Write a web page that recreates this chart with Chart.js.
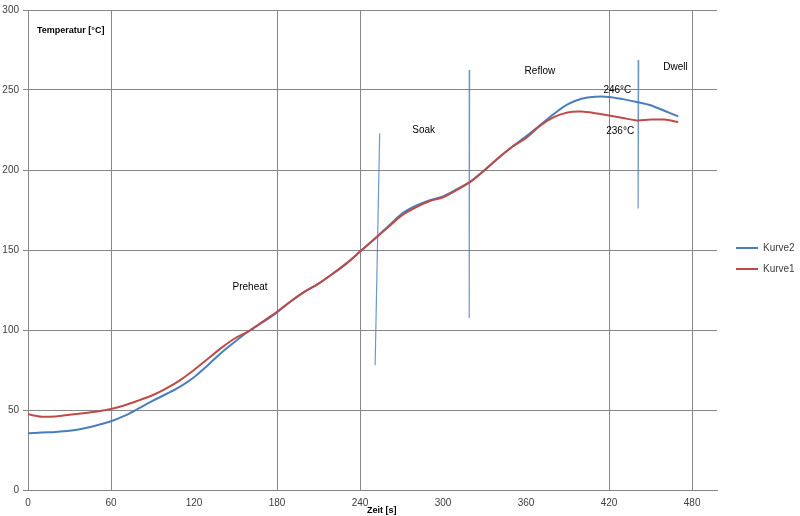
<!DOCTYPE html>
<html lang="de">
<head>
  <meta charset="UTF-8">
  <title>Temperaturprofil</title>
  <script src="https://cdn.jsdelivr.net/npm/chart.js"></script>
  <style>
    html, body { margin: 0; padding: 0; background: #fff; }
    #wrap { width: 800px; height: 516px; }
  </style>
</head>
<body>
  <div id="wrap"><canvas id="profil" width="800" height="516"></canvas></div>
  <script>
    // Zeit [s] und Temperaturen [°C]
    const zeit = [0, 10, 20, 30, 40, 50, 60, 70, 80, 90, 100, 110, 120, 130, 140, 150, 160, 170, 180, 190,
      200, 210, 220, 230, 240, 250, 260, 270, 280, 290, 300, 310, 320, 330, 340, 350, 360, 370, 380, 390,
      400, 410, 420, 430, 440, 450, 460, 470];
    const kurve1 = [47.3, 45.8, 46, 47, 48, 49, 50.6, 53, 56, 59.2, 63.5, 68.7, 75, 82, 89, 95, 99.5, 105.5, 111.4, 118,
      124, 129, 135, 141.5, 149, 156.5, 164, 171.5, 176.5, 180.5, 183, 187.5, 192.7, 199.8, 207.5, 214.5, 220, 227.5, 233, 236,
      236.5, 235.5, 234, 232.5, 231, 231.5, 231.5, 230];
    const kurve2 = [35.4, 36, 36.3, 37, 38.5, 40.5, 43, 46.5, 51, 55.7, 60, 64.6, 70.5, 78, 86, 93, 99.5, 105, 111, 118,
      124, 129, 135, 141.5, 149, 156.5, 164.5, 172.5, 177.5, 181, 183.5, 188, 193, 200, 207.5, 214.5, 221, 228, 235, 241,
      244.5, 245.8, 245.7, 244.3, 242.5, 240.5, 237, 233.5];

    // senkrechte Markierungen (Zeit oben/unten, Temperatur oben/unten)
    const markerZeitOben = [254.2, 319.2, 441.4];
    const markerZeitUnten = [250.9, 318.9, 441];
    const markerTempOben = [223, 262.5, 268.75];
    const markerTempUnten = [78, 107.5, 176];

    const xGitter = [60, 180, 240, 420, 480];

    const beschriftungen = [
      { text: 'Preheat', x: 160.5, y: 127 },
      { text: 'Soak', x: 286, y: 225 },
      { text: 'Reflow', x: 370, y: 262 },
      { text: 'Dwell', x: 468, y: 264 },
      { text: '246°C', x: 426, y: 250 },
      { text: '236°C', x: 428, y: 224.4 }
    ];

    const fontFam = '"Liberation Sans", Arial, sans-serif';
    const gridGrau = '#878787';

    const toPts = (ys) => zeit.map((t, i) => ({ x: t, y: ys[i] }));

    const markerSets = markerZeitOben.map((t, i) => ({
      label: 'marker' + i,
      data: [{ x: t, y: markerTempOben[i] }, { x: markerZeitUnten[i], y: markerTempUnten[i] }],
      borderColor: 'rgba(74,126,187,0.8)',
      borderWidth: 1.2,
      pointRadius: 0,
      fill: false
    }));

    const textPlugin = {
      id: 'texte',
      afterDatasetsDraw(chart) {
        const { ctx, scales: { x, y } } = chart;
        ctx.save();
        ctx.fillStyle = '#000';
        ctx.textBaseline = 'middle';
        ctx.textAlign = 'center';
        ctx.font = '10px ' + fontFam;
        beschriftungen.forEach(b => {
          ctx.fillText(b.text, x.getPixelForValue(b.x), y.getPixelForValue(b.y));
        });
        ctx.textAlign = 'left';
        ctx.font = 'bold 9px ' + fontFam;
        ctx.fillText('Temperatur [°C]', x.getPixelForValue(6.5), y.getPixelForValue(287));
        ctx.fillText('Zeit [s]', x.getPixelForValue(245), y.getPixelForValue(-13));
        ctx.restore();
      }
    };

    new Chart(document.getElementById('profil'), {
      type: 'line',
      data: {
        datasets: [
          {
            label: 'Kurve1',
            data: toPts(kurve1),
            borderColor: '#BE4B48',
            backgroundColor: '#BE4B48',
            borderWidth: 2,
            pointRadius: 0,
            tension: 0.3
          },
          {
            label: 'Kurve2',
            data: toPts(kurve2),
            borderColor: '#4A7EBB',
            backgroundColor: '#4A7EBB',
            borderWidth: 2,
            pointRadius: 0,
            tension: 0.3
          },
          ...markerSets
        ]
      },
      options: {
        responsive: false,
        animation: false,
        layout: { padding: { top: 10, bottom: 9, left: 0, right: 0 } },
        plugins: {
          tooltip: { enabled: false },
          legend: {
            position: 'right',
            maxWidth: 75,
            labels: {
              usePointStyle: true,
              pointStyle: 'line',
              pointStyleWidth: 22,
              boxHeight: 10,
              padding: 11,
              color: '#404040',
              font: { family: fontFam, size: 10 },
              filter: (item) => item.text.startsWith('Kurve'),
              sort: (a, b) => b.datasetIndex - a.datasetIndex
            }
          }
        },
        scales: {
          x: {
            type: 'linear',
            min: 0,
            max: 498,
            afterBuildTicks: (s) => { s.ticks = s.ticks.filter(t => t.value % 60 === 0); },
            afterFit: (s) => { s.height = 17; },
            ticks: { stepSize: 60, includeBounds: false, autoSkip: false, padding: 7, color: '#404040', font: { family: fontFam, size: 10 }, maxRotation: 0 },
            grid: {
              drawTicks: false,
              color: (c) => xGitter.includes(c.tick && c.tick.value) ? gridGrau : 'transparent'
            },
            border: { color: gridGrau }
          },
          y: {
            min: 0,
            max: 300,
            afterFit: (s) => { s.width = 28; },
            ticks: { stepSize: 50, padding: 4, color: '#404040', font: { family: fontFam, size: 10 } },
            grid: { color: gridGrau, tickLength: 5 },
            border: { color: gridGrau }
          },
          rechts: {
            position: 'right',
            display: true,
            afterFit: (s) => { s.width = 8; },
            ticks: { display: false },
            grid: { display: false },
            border: { display: false }
          }
        }
      },
      plugins: [textPlugin]
    });
  </script>
</body>
</html>
